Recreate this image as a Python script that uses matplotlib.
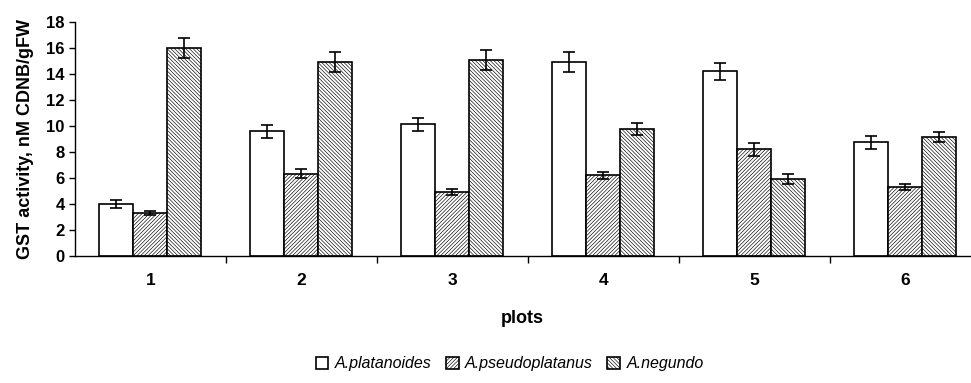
import matplotlib.pyplot as plt
import numpy as np

# data
plots = ["1", "2", "3", "4", "5", "6"]
species = ["A.platanoides", "A.pseudoplatanus", "A.negundo"]

platanoides = [4.0, 9.6, 10.15, 14.95, 14.2, 8.75]
platanoides_err = [0.3, 0.5, 0.5, 0.77, 0.66, 0.5]
pseudoplatanus = [3.28, 6.33, 4.92, 6.2, 8.23, 5.3]
pseudoplatanus_err = [0.15, 0.36, 0.25, 0.26, 0.5, 0.26]
negundo = [16.0, 14.95, 15.08, 9.77, 5.92, 9.15]
negundo_err = [0.77, 0.77, 0.77, 0.49, 0.38, 0.36]

values = [platanoides, pseudoplatanus, negundo]
errors = [platanoides_err, pseudoplatanus_err, negundo_err]
hatches = [None, "/" * 9, "\\" * 9]

plt.rcParams.update({
    "font.family": ["Liberation Sans", "DejaVu Sans"],
    "hatch.linewidth": 0.45,
    "hatch.color": "black",
})

fig = plt.figure(figsize=(9.71, 3.83), dpi=100)
ax = fig.add_axes([0.0772, 0.3316, 0.9218, 0.611])

x = np.arange(1, len(plots) + 1)
w = 0.225
for i in range(3):
    ax.bar(x + (i - 1) * w, values[i], w, yerr=errors[i],
           color="white", edgecolor="black", linewidth=1.2,
           hatch=hatches[i], label=species[i],
           error_kw=dict(ecolor="black", elinewidth=1.2, capsize=4.5, capthick=1.2))

ax.set_xlim(0.5, 6.43)
ax.set_ylim(0, 18)
ax.set_yticks(np.arange(0, 19, 2))
ax.set_xticks(x)
ax.set_xticklabels(plots, fontweight="bold", fontsize=12.5)
ax.set_xticks(np.arange(1.5, 6.5, 1), minor=True)
ax.tick_params(axis="x", which="major", length=0, pad=12)
ax.tick_params(axis="x", which="minor", length=5, width=1, direction="out")
ax.tick_params(axis="y", length=4, width=1, labelsize=12)
for lab in ax.get_yticklabels():
    lab.set_fontweight("bold")

for s in ["top", "right"]:
    ax.spines[s].set_visible(False)
ax.spines["left"].set_linewidth(1)
ax.spines["bottom"].set_linewidth(1)

ax.set_xlabel("plots", fontweight="bold", fontsize=13, labelpad=16)
ax.set_ylabel("GST activity, nM CDNB/gFW", fontweight="bold", fontsize=13, labelpad=9)

fig.legend(loc="center", bbox_to_anchor=(0.525, 0.05), ncol=3, frameon=False,
           prop={"style": "italic", "size": 11.5}, handlelength=0.8, handleheight=0.8,
           handletextpad=0.4, columnspacing=0.9)

fig.savefig("out.png", dpi=100, facecolor="white")
